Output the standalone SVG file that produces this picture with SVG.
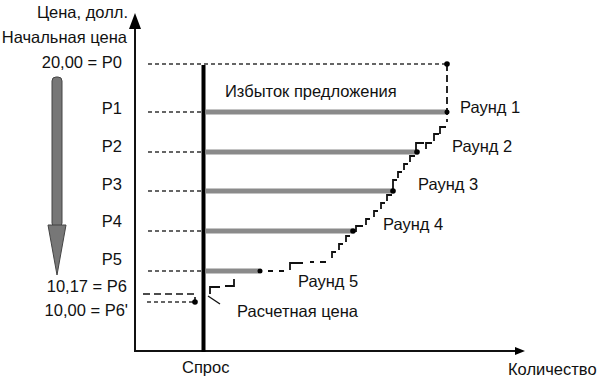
<svg xmlns="http://www.w3.org/2000/svg" width="598" height="380" viewBox="0 0 598 380">
<style>
text{font-family:"Liberation Sans",Arial,sans-serif;font-size:16.5px;fill:#111}
.r{text-anchor:end}
.guide{stroke:#333;stroke-width:1.6;stroke-dasharray:4,3;fill:none}
.bar{stroke:#8a8a8a;stroke-width:5;fill:none}
.stair{stroke:#111;stroke-width:1.8;fill:none}
.dot{fill:#000}
</style>
<rect width="598" height="380" fill="#fff"/>
<g id="axes">
<line x1="135" y1="24" x2="135" y2="352" stroke="#111" stroke-width="2"/>
<polygon points="135,13 129,29 141,29" fill="#000"/>
<line x1="135" y1="351" x2="518" y2="351" stroke="#111" stroke-width="2"/>
<polygon points="525,351 515,347 515,355" fill="#000"/>
<text x="128" y="18" class="r">Цена, долл.</text>
<text x="508" y="375">Количество</text>
</g>
<g id="price-arrow">
<rect x="52" y="77" width="10" height="150" rx="4" fill="#777" stroke="#444" stroke-width="1"/>
<polygon points="48,225 66,225 57,275" fill="#777" stroke="#444" stroke-width="1"/>
<text x="127" y="43" class="r">Начальная цена</text>
<text x="122" y="68" class="r">20,00 = P0</text>
</g>
<g id="demand">
<line x1="203.5" y1="65" x2="203.5" y2="352" stroke="#000" stroke-width="4"/>
<text x="182" y="373">Спрос</text>
</g>
<g id="connectors">
<line class="guide" x1="148" y1="64" x2="445" y2="64"/>
<line class="guide" x1="148" y1="112" x2="202" y2="112"/>
<line class="guide" x1="148" y1="152" x2="202" y2="152"/>
<line class="guide" x1="148" y1="191" x2="202" y2="191"/>
<line class="guide" x1="148" y1="231" x2="202" y2="231"/>
<line class="guide" x1="148" y1="271" x2="202" y2="271"/>
<path d="M143,294 H195 V300" stroke="#111" stroke-width="1.6" stroke-dasharray="7,4" fill="none"/>
<line class="guide" x1="147" y1="302" x2="193" y2="302"/>
<line class="bar" x1="206" y1="112" x2="446" y2="112"/>
<line class="bar" x1="206" y1="152" x2="416" y2="152"/>
<line class="bar" x1="206" y1="191" x2="392" y2="191"/>
<line class="bar" x1="206" y1="231" x2="352" y2="231"/>
<line class="bar" x1="206" y1="271" x2="259" y2="271"/>
<line class="stair" stroke-dasharray="7,4" x1="447" y1="64" x2="447" y2="122"/>
<path class="stair" d="M446,127 H440 V134 M439,134 H434 V141 M432,143 H426 V149"/>
<path class="stair" d="M424,143 H416 V152"/>
<path class="stair" d="M415,156 H410 V162 M408,164 H404 V170 M402,172 H398 V178 M397,180 H393 V190"/>
<path class="stair" d="M392,195 H387 V201 M385,203 H381 V209 M378,211 H374 V217 M370,219 H366 V225 M363,226 H356 V232"/>
<path class="stair" d="M350,236 H346 V242 M343,244 H339 V250 M336,252 H332 V258"/>
<path class="stair" d="M326,262 H320 M314,262 H310 M303,263 H290 V270 M284,271 H279 M273,271 H268"/>
<path class="stair" d="M234,279 V286 H225 M220,287 H210 V294"/>
<line x1="208" y1="296" x2="220" y2="304" stroke="#111" stroke-width="1.4"/>
<circle class="dot" cx="447" cy="64" r="2.8"/>
<circle class="dot" cx="447" cy="112" r="2.5"/>
<circle class="dot" cx="417" cy="152" r="2.8"/>
<circle class="dot" cx="393" cy="191" r="2.8"/>
<circle class="dot" cx="353" cy="231" r="2.8"/>
<circle class="dot" cx="260" cy="271" r="2.5"/>
<circle class="dot" cx="195" cy="302" r="2.8"/>
</g>
<g id="labels">
<text x="122" y="114" class="r">P1</text>
<text x="122" y="152" class="r">P2</text>
<text x="122" y="190" class="r">P3</text>
<text x="122" y="227" class="r">P4</text>
<text x="122" y="265" class="r">P5</text>
<text x="127" y="292" class="r">10,17 = P6</text>
<text x="128" y="316" class="r">10,00 = P6'</text>
<text x="225" y="97">Избыток предложения</text>
<text x="460" y="113">Раунд 1</text>
<text x="452" y="152">Раунд 2</text>
<text x="418" y="190">Раунд 3</text>
<text x="383" y="230">Раунд 4</text>
<text x="298" y="287">Раунд 5</text>
<text x="237" y="317">Расчетная цена</text>
</g>
</svg>
